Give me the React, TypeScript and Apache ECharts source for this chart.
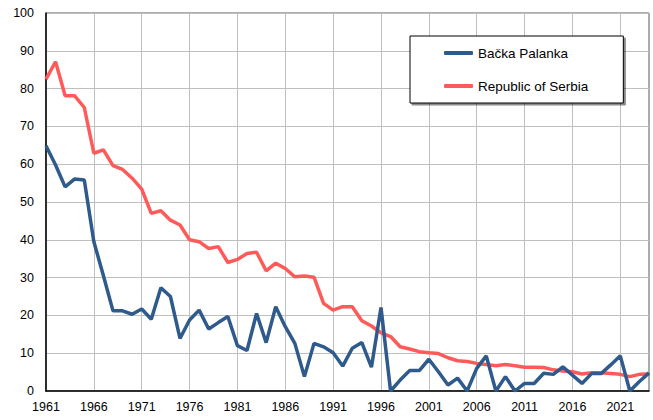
import React, { useEffect, useRef } from "react";
import * as echarts from "echarts";

const years: string[] = [];
for (let y = 1961; y <= 2024; y++) years.push(String(y));

const backaPalanka = [
  64.9, 59.8, 54.0, 56.1, 55.8, 39.5, 30.5, 21.2, 21.2, 20.3,
  21.7, 19.0, 27.3, 25.0, 13.9, 18.8, 21.4, 16.4, 18.1, 19.7,
  12.0, 10.7, 20.5, 12.8, 22.3, 17.0, 12.6, 3.8, 12.6, 11.7,
  10.1, 6.6, 11.3, 12.8, 6.3, 22.1, 0.0, 2.9, 5.4, 5.4,
  8.4, 5.1, 1.6, 3.4, 0.0, 6.0, 9.3, 0.0, 3.8, 0.0,
  2.0, 2.0, 4.7, 4.4, 6.4, 4.2, 2.0, 4.6, 4.6, 6.9,
  9.3, 0.0, 2.5, 4.8,
];

const serbia = [
  82.5, 87.1, 78.1, 78.1, 75.0, 62.9, 63.8, 59.6, 58.6, 56.3,
  53.4, 47.0, 47.7, 45.2, 43.9, 40.0, 39.5, 37.7, 38.2, 34.0,
  34.8, 36.4, 36.7, 31.8, 33.8, 32.4, 30.2, 30.4, 30.1, 23.2,
  21.4, 22.3, 22.3, 18.6, 17.2, 15.4, 14.4, 11.7, 11.1, 10.4,
  10.1, 9.9, 8.8, 8.0, 7.8, 7.3, 7.0, 6.7, 7.0, 6.7,
  6.3, 6.3, 6.2, 5.6, 5.3, 5.1, 4.5, 4.8, 4.8, 4.6,
  4.4, 3.8, 4.4, 4.5,
];

const yTicks = { min: 0, max: 100, interval: 10 };

export default function App() {
  const ref = useRef<HTMLDivElement>(null);
  useEffect(() => {
    if (!ref.current) return;
    const chart = echarts.init(ref.current, null, { renderer: "svg" });
    const font = "Liberation Sans, Arial, sans-serif";
    chart.setOption({
      animation: false,
      backgroundColor: "#ffffff",
      textStyle: { fontFamily: font },
      grid: {
        left: 46,
        right: 4,
        top: 13,
        bottom: 29,
        show: true,
        borderColor: "#595959",
        borderWidth: 1,
      },
      legend: {
        orient: "vertical",
        left: 410,
        top: 36,
        padding: [9, 35, 9, 34],
        itemGap: 17,
        itemWidth: 29,
        itemHeight: 4,
        icon: "roundRect",
        backgroundColor: "#ffffff",
        borderColor: "#000000",
        borderWidth: 1,
        shadowColor: "rgba(0,0,0,0.45)",
        shadowBlur: 0,
        shadowOffsetX: 2,
        shadowOffsetY: 2,
        textStyle: { fontFamily: font, fontSize: 13.5, color: "#000", lineHeight: 16 },
        data: ["Bačka Palanka", "Republic of Serbia"],
      },
      xAxis: {
        type: "category",
        data: years,
        boundaryGap: false,
        axisLine: { show: true, lineStyle: { color: "#000", width: 1.5 } },
        axisTick: { show: false },
        axisLabel: { interval: 4, color: "#000", fontSize: 12.5, fontFamily: font, margin: 9 },
        splitLine: { show: true, interval: 4, lineStyle: { color: "#bfbfbf", width: 1 } },
      },
      yAxis: {
        type: "value",
        min: yTicks.min,
        max: yTicks.max,
        interval: yTicks.interval,
        axisLine: { show: true, lineStyle: { color: "#000", width: 1.5 } },
        axisTick: { show: false },
        axisLabel: { color: "#000", fontSize: 12.5, fontFamily: font, margin: 12 },
        splitLine: { show: true, lineStyle: { color: "#bfbfbf", width: 1 } },
      },
      series: [
        {
          name: "Bačka Palanka",
          type: "line",
          data: backaPalanka,
          symbol: "none",
          lineStyle: { color: "#2f5a8c", width: 3.5 },
          itemStyle: { color: "#2f5a8c" },
          z: 3,
        },
        {
          name: "Republic of Serbia",
          type: "line",
          data: serbia,
          symbol: "none",
          lineStyle: { color: "#ff5a5a", width: 3.5 },
          itemStyle: { color: "#ff5a5a" },
          z: 2,
        },
      ],
    });
    return () => chart.dispose();
  }, []);
  return (
    <div
      ref={ref}
      style={{ position: "absolute", left: 0, top: 0, width: 653, height: 420 }}
    />
  );
}
